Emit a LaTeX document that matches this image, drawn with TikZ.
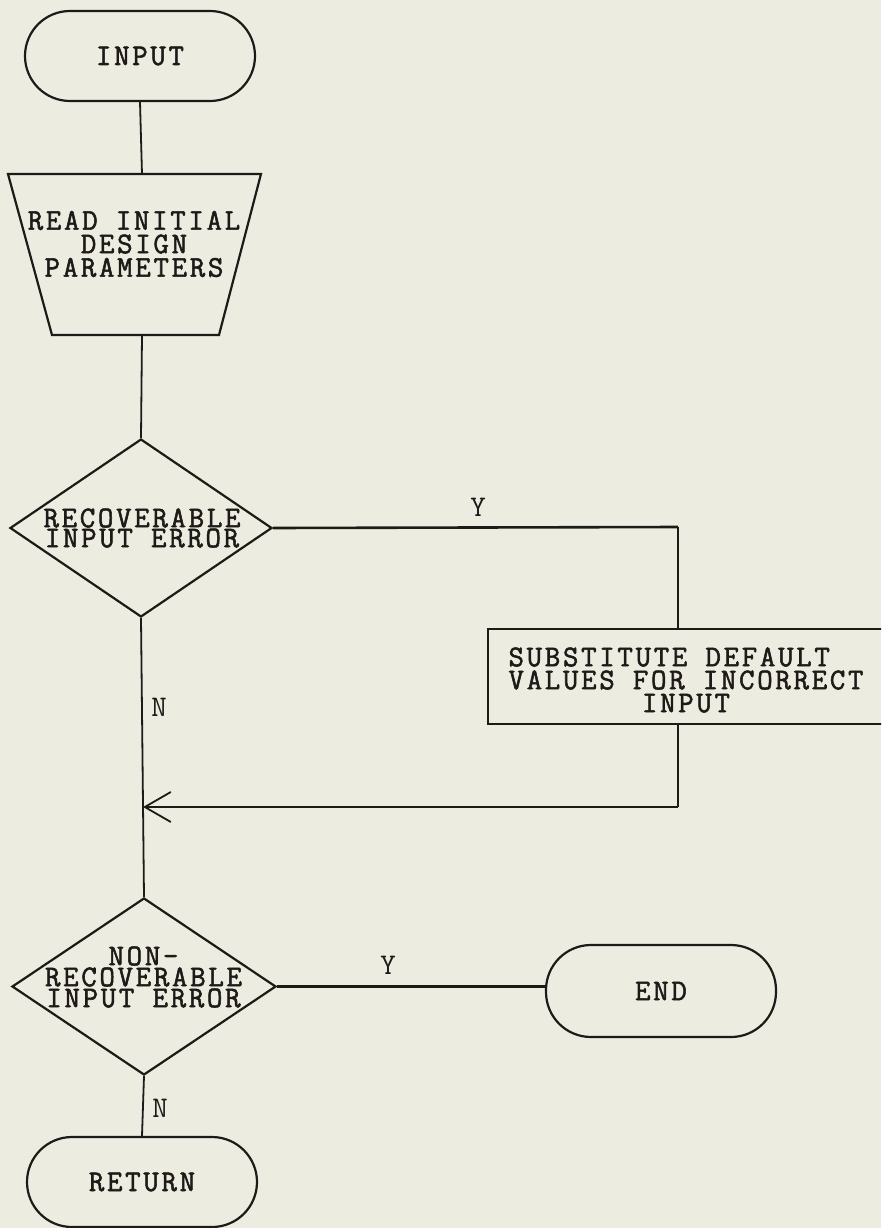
\documentclass[tikz,border=0pt]{standalone}
\usepackage{fontspec}
\setmonofont{Latin Modern Mono}[LetterSpace=9, AutoFakeBold=1.8]
\usetikzlibrary{shapes.geometric,arrows.meta}
\definecolor{bg}{RGB}{237,236,225}
\definecolor{ink}{RGB}{30,26,24}
\begin{document}
\begin{tikzpicture}[x=1pt,y=-1pt,
  every node/.style={font=\ttfamily\bfseries\fontsize{30}{20}\selectfont, text=ink},
  term/.style={draw=ink, line width=2.2pt, rounded corners=45pt, minimum width=230pt, minimum height=90pt, inner sep=0pt},
  dec/.style={draw=ink, line width=2.2pt, diamond, inner sep=0pt},
  proc/.style={draw=ink, line width=2.2pt, rectangle, inner sep=0pt},
  txt/.style={inner sep=0pt, align=center},
  lbl/.style={inner sep=0pt, font=\ttfamily\fontsize{30}{20}\selectfont},
  flow/.style={draw=ink, line width=1.8pt},
  hflow/.style={draw=ink, line width=2.6pt},
  barb/.style={-{Straight Barb[length=26pt, width=30pt, line width=1.8pt]}}
]
\useasboundingbox[fill=bg] (0,0) rectangle (881,1228);
\clip (0,0) rectangle (881,1228);

% INPUT terminal
\node[term] (input) at (140,56) {INPUT};

% trapezoid (manual input)
\coordinate (trtop) at (142,174);
\coordinate (trbot) at (142,335);
\draw[draw=ink, line width=2.2pt, line join=miter] (8,174) -- (261,174) -- (219,335) -- (52,335) -- cycle;
\node[txt, font=\ttfamily\bfseries\fontsize{30}{23.5}\selectfont] (read) at (134,244) {READ INITIAL\\DESIGN\\PARAMETERS};

% decision 1
\node[dec, minimum width=262pt, minimum height=178pt] (d1) at (141,528) {};
\node[txt, font=\ttfamily\bfseries\fontsize{30}{20}\selectfont] (d1t) at (142,528) {RECOVERABLE\\INPUT ERROR};

% substitute box
\node[proc, minimum width=420pt, minimum height=95pt, anchor=west] (sub) at (487,676.5) {};
\node[txt, font=\ttfamily\bfseries\fontsize{30}{23}\selectfont] (subt) at (686,680) {SUBSTITUTE DEFAULT\hphantom{XX}\\VALUES FOR INCORRECT\\INPUT};

% decision 2
\node[dec, minimum width=264pt, minimum height=177pt] (d2) at (144,986.5) {};
\node[txt, font=\ttfamily\bfseries\fontsize{30}{21}\selectfont] (d2t) at (143.5,977) {NON-\\RECOVERABLE\\INPUT ERROR};

% END and RETURN terminals
\node[term, minimum height=92pt] (stop) at (661,991) {END};
\node[term] (ret) at (142,1182) {RETURN};

% connectors
\draw[flow] (input.south) -- (trtop);
\draw[flow] (trbot) -- (d1.north);
\coordinate (jx) at (678,527);
\draw[hflow] (d1.east) -- (jx);
\draw[flow] (jx) -- (jx |- sub.north);
\coordinate (merge) at (143,807);
\draw[flow] (jx |- sub.south) -- (jx |- merge);
\draw[hflow, barb] (jx |- merge) -- (merge);
\draw[flow] (d1.south) -- (d2.north);
\draw[hflow] (d2.east) -- (d2.east -| stop.west);
\draw[flow] (d2.south) -- (ret.north);

% labels
\node[lbl] (y1) at (478,507) {Y};
\node[lbl] (n1) at (159,707) {N};
\node[lbl] (y2) at (388,965) {Y};
\node[lbl] (n2) at (160,1108) {N};
\end{tikzpicture}
\end{document}
